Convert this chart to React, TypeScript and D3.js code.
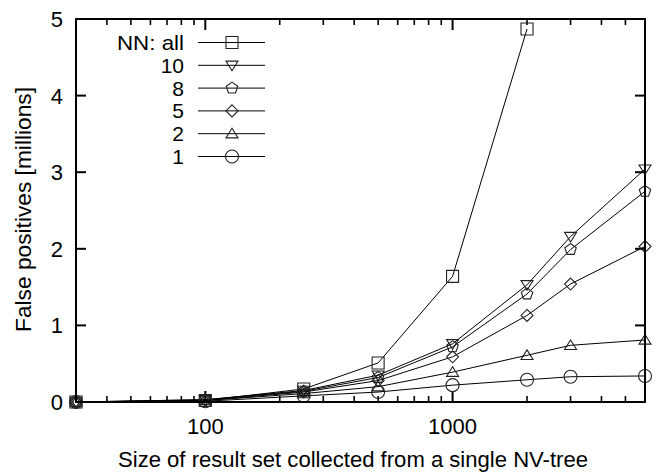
import React from 'react';
import { scaleLog, scaleLinear, line } from 'd3';

const xValues = [30, 100, 250, 500, 1000, 2000, 3000, 6000];
const seriesNames = ['NN: all', '10', '8', '5', '2', '1'];
const seriesShapes = ['square', 'triDown', 'pentagon', 'diamond', 'triUp', 'circle'];
const allValues = [0, 0.02, 0.17, 0.51, 1.64, 4.87];
const nn10 = [0, 0.03, 0.15, 0.35, 0.76, 1.53, 2.16, 3.04];
const nn8 = [0, 0.03, 0.14, 0.32, 0.72, 1.41, 1.99, 2.75];
const nn5 = [0, 0.02, 0.13, 0.28, 0.59, 1.13, 1.54, 2.03];
const nn2 = [0, 0.02, 0.11, 0.2, 0.39, 0.61, 0.74, 0.81];
const nn1 = [0, 0.01, 0.08, 0.13, 0.22, 0.29, 0.33, 0.34];
const seriesValues = [allValues, nn10, nn8, nn5, nn2, nn1];
const yTicks = [0, 1, 2, 3, 4, 5];
const xMajor = [100, 1000];
const xMinor = [40, 50, 60, 70, 80, 90, 200, 300, 400, 500, 600, 700, 800, 900, 2000, 3000, 4000, 5000];

const W = 661;
const H = 472;
const left = 76;
const right = 645;
const top = 19;
const bottom = 402;
const font = 'Liberation Sans, Arial, Helvetica, sans-serif';

const x = scaleLog().domain([30, 6000]).range([left, right]);
const y = scaleLinear().domain([0, 5]).range([bottom, top]);

// marker outline centred at 0,0
function markerPath(shape: string, r: number) {
  if (shape === 'square') return `M${-r},${-r}H${r}V${r}H${-r}Z`;
  if (shape === 'triDown') return `M${-r},${-r * 0.7}L${r},${-r * 0.7}L0,${r * 0.9}Z`;
  if (shape === 'triUp') return `M${-r},${r * 0.7}L${r},${r * 0.7}L0,${-r * 0.9}Z`;
  if (shape === 'diamond') return `M0,${-r}L${r},0L0,${r}L${-r},0Z`;
  if (shape === 'pentagon') {
    const pts = [0, 1, 2, 3, 4].map((i) => {
      const a = -Math.PI / 2 + (i * 2 * Math.PI) / 5;
      return `${r * Math.cos(a)},${r * Math.sin(a)}`;
    });
    return `M${pts.join('L')}Z`;
  }
  return `M${-r},0A${r},${r} 0 1,0 ${r},0A${r},${r} 0 1,0 ${-r},0Z`;
}

const Marker = ({ shape, cx, cy }: { shape: string; cx: number; cy: number }) => (
  <path d={markerPath(shape, shape === 'circle' ? 6.5 : 6)} transform={`translate(${cx},${cy})`}
    fill="none" stroke="#222" strokeWidth={1.1} />
);

const App = () => {
  const lineGen = line<number>().x((d, i) => x(xValues[i])).y((d) => y(d));

  return (
    <svg width={W} height={H} style={{ position: 'absolute', left: 0, top: 0 }}>
      <rect width={W} height={H} fill="white" />
      {/* ticks */}
      {yTicks.map((t) => (
        <g key={'y' + t}>
          <line x1={left} x2={left + 10} y1={y(t)} y2={y(t)} stroke="black" strokeWidth={2} />
          <line x1={right - 10} x2={right} y1={y(t)} y2={y(t)} stroke="black" strokeWidth={2} />
          <text x={63} y={y(t)} dy="0.36em" textAnchor="end" fontFamily={font} fontSize={22}>{t}</text>
        </g>
      ))}
      {xMajor.map((t) => (
        <g key={'x' + t}>
          <line x1={x(t)} x2={x(t)} y1={bottom} y2={bottom - 11} stroke="black" strokeWidth={2} />
          <line x1={x(t)} x2={x(t)} y1={top} y2={top + 11} stroke="black" strokeWidth={2} />
          <text x={x(t)} y={433.5} textAnchor="middle" fontFamily={font} fontSize={22}>{t}</text>
        </g>
      ))}
      {xMinor.map((t) => (
        <g key={'m' + t}>
          <line x1={x(t)} x2={x(t)} y1={bottom} y2={bottom - 6} stroke="black" strokeWidth={1.6} />
          <line x1={x(t)} x2={x(t)} y1={top} y2={top + 6} stroke="black" strokeWidth={1.6} />
        </g>
      ))}
      {/* series */}
      {seriesValues.map((vals, s) => (
        <g key={'s' + s}>
          <path d={lineGen(vals) || ''} fill="none" stroke="black" strokeWidth={1} />
          {vals.map((v, i) => (
            <Marker key={i} shape={seriesShapes[s]} cx={x(xValues[i])} cy={y(v)} />
          ))}
        </g>
      ))}
      <rect x={left} y={top} width={right - left} height={bottom - top} fill="none" stroke="black" strokeWidth={2} />
      {/* legend */}
      {seriesNames.map((name, i) => {
        const ly = 42.5 + i * 22.8;
        return (
          <g key={'l' + i}>
            <text x={184} y={ly} dy="0.36em" textAnchor="end" fontFamily={font} fontSize={21}
              textLength={i === 0 ? 67 : undefined} lengthAdjust="spacingAndGlyphs">{name}</text>
            <line x1={198} x2={265} y1={ly} y2={ly} stroke="black" strokeWidth={1} />
            <Marker shape={seriesShapes[i]} cx={232} cy={ly} />
          </g>
        );
      })}
      <text x={118} y={466.5} fontFamily={font} fontSize={22} textLength={470} lengthAdjust="spacingAndGlyphs">
        Size of result set collected from a single NV-tree
      </text>
      <text transform={`translate(23.5,332) rotate(-90)`} dy="0.36em" fontFamily={font} fontSize={22}
        textLength={245} lengthAdjust="spacingAndGlyphs">
        False positives [millions]
      </text>
    </svg>
  );
};

export default App;
